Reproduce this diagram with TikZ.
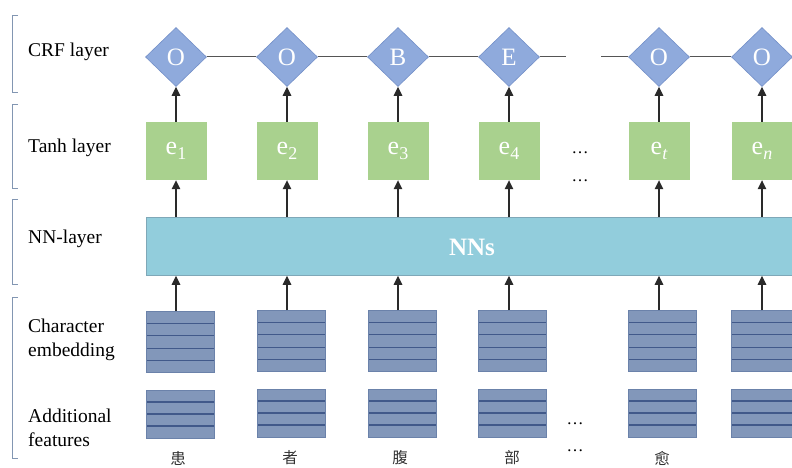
\documentclass[tikz,border=0pt]{standalone}
\usepackage{fontspec}
\setmainfont{Liberation Serif}
\newfontfamily\cjkfont{Noto Sans CJK SC}
\usetikzlibrary{shapes.geometric,arrows.meta,calc}
\definecolor{dmfill}{HTML}{8FAADC}
\definecolor{dmdraw}{HTML}{7490C8}
\definecolor{grfill}{HTML}{A9D18E}
\definecolor{nnfill}{HTML}{92CDDC}
\definecolor{nndraw}{HTML}{7FA8B8}
\definecolor{blfill}{HTML}{8297BA}
\definecolor{bldraw}{HTML}{6B82AA}
\definecolor{blline}{HTML}{41598A}
\definecolor{brk}{HTML}{8296B2}
\definecolor{conn}{HTML}{2A2A2A}
\newcommand{\esub}[1]{e\raisebox{-5pt}{\fontsize{18}{18}\selectfont #1}}
\tikzset{
  crf/.style={diamond, fill=dmfill, draw=dmdraw, line width=0.6pt, minimum width=61pt, minimum height=59pt, inner sep=0pt, text=white, font=\fontsize{25}{26}\selectfont},
  tanhbox/.style={rectangle, fill=grfill, minimum width=61pt, minimum height=58pt, inner sep=0pt, text=white, font=\fontsize{26}{28}\selectfont},
  nnbar/.style={rectangle, fill=nnfill, draw=nndraw, line width=0.8pt},
  blk/.style={rectangle, fill=blfill, draw=bldraw, line width=0.6pt, minimum width=68pt, inner sep=0pt},
  emb/.style={blk, minimum height=61pt, path picture={\foreach \f in {0.2,0.4,0.6,0.8}{\draw[blline, line width=1.1pt] ($(path picture bounding box.south west)!\f!(path picture bounding box.north west)$) -- ($(path picture bounding box.south east)!\f!(path picture bounding box.north east)$);}}},
  feat/.style={blk, minimum height=48pt, path picture={\foreach \f in {0.25,0.5,0.75}{\draw[blline, line width=1.1pt] ($(path picture bounding box.south west)!\f!(path picture bounding box.north west)$) -- ($(path picture bounding box.south east)!\f!(path picture bounding box.north east)$);}}},
  lbl/.style={anchor=west, align=left, inner sep=0pt, font=\fontsize{19.5}{24}\selectfont},
  chr/.style={inner sep=0pt, font=\cjkfont\fontsize{15.5}{17}\selectfont, text=black!80},
  dts/.style={inner sep=0pt, font=\fontsize{17}{18}\selectfont},
  arr/.style={conn, line width=1.2pt, -{Triangle[width=8.5pt,length=9pt]}},
  link/.style={conn!80, line width=1pt},
  bracket/.style={brk, line width=0.8pt}
}
\begin{document}
\begin{tikzpicture}[x=1pt,y=-1pt]
\useasboundingbox (0,0) rectangle (792,468);
\clip (0,0) rectangle (792,468);
% left brackets
\draw[bracket] (18,15) -- (12,15) -- (12,92) -- (18,92);
\draw[bracket] (18,104) -- (12,104) -- (12,188) -- (18,188);
\draw[bracket] (18,199) -- (12,199) -- (12,284) -- (18,284);
\draw[bracket] (18,297) -- (12,297) -- (12,458) -- (18,458);
% labels
\node[lbl] (lcrf) at (28,52) {CRF layer};
\node[lbl] (ltanh) at (28,148) {Tanh layer};
\node[lbl] (lnn) at (28,239) {NN-layer};
\node[lbl] (lemb) at (28,340) {Character\\embedding};
\node[lbl] (lfeat) at (28,428) {Additional\\features};
% CRF diamonds
\node[crf] (d1) at (176,57) {O};
\node[crf] (d2) at (287,57) {O};
\node[crf] (d3) at (398,57) {B};
\node[crf] (d4) at (509,57) {E};
\node[crf] (d5) at (659,57) {O};
\node[crf] (d6) at (762,57) {O};
\coordinate (g1) at (566,57);
\coordinate (g2) at (601,57);
\draw[link] (d1) -- (d2);
\draw[link] (d2) -- (d3);
\draw[link] (d3) -- (d4);
\draw[link] (d4) -- (g1);
\draw[link] (g2) -- (d5);
\draw[link] (d5) -- (d6);
% tanh boxes
\node[tanhbox] (e1) at (176,151) {\esub{1}};
\node[tanhbox] (e2) at (287,151) {\esub{2}};
\node[tanhbox] (e3) at (398,151) {\esub{3}};
\node[tanhbox] (e4) at (509,151) {\esub{4}};
\node[tanhbox] (e5) at (659,151) {\esub{\itshape t}};
\node[tanhbox] (e6) at (762,151) {\esub{\itshape n}};
\node[dts] (dt1) at (580,153) {\dots};
\node[dts] (dt2) at (580,181) {\dots};
% NN bar
\node[nnbar, minimum width=660pt, minimum height=58pt, anchor=north west, inner sep=0pt] (nn) at (146,217) {};
\node[inner sep=0pt, text=white, font=\bfseries\fontsize{25}{27}\selectfont] (nnt) at (472,247) {NNs};
% embedding blocks
\node[emb] (c1) at (180,342) {};
\node[emb] (c2) at (291,341) {};
\node[emb] (c3) at (402,341) {};
\node[emb] (c4) at (512,341) {};
\node[emb] (c5) at (662,341) {};
\node[emb] (c6) at (765,341) {};
% feature blocks
\node[feat] (f1) at (180,414) {};
\node[feat] (f2) at (291,413) {};
\node[feat] (f3) at (402,413) {};
\node[feat] (f4) at (512,413) {};
\node[feat] (f5) at (662,413) {};
\node[feat] (f6) at (765,413) {};
\node[dts] (dt3) at (575,424) {\dots};
\node[dts] (dt4) at (575,451) {\dots};
% characters
\node[chr] (h1) at (178,458) {患};
\node[chr] (h2) at (290,458) {者};
\node[chr] (h3) at (400,458) {腹};
\node[chr] (h4) at (512,458) {部};
\node[chr] (h5) at (662,458) {愈};
% arrows
\foreach \i in {1,...,6}{
  \draw[arr] (e\i.north) -- (d\i.south);
  \draw[arr] (e\i.south |- nn.north) -- (e\i.south);
  \draw[arr] (e\i.south |- c\i.north) -- (e\i.south |- nn.south);
}
\end{tikzpicture}
\end{document}
